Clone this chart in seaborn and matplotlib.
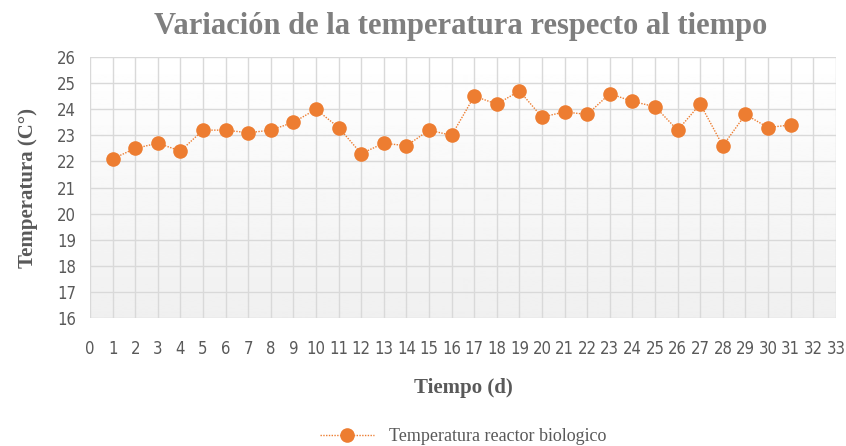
import numpy as np
import pandas as pd
import seaborn as sns
import matplotlib.pyplot as plt
from matplotlib import font_manager

dias = list(range(1, 32))
temperatura = [22.1, 22.5, 22.7, 22.4, 23.2, 23.2, 23.1, 23.2, 23.5, 24.0,
               23.3, 22.3, 22.7, 22.6, 23.2, 23.0, 24.5, 24.2, 24.7, 23.7,
               23.9, 23.8, 24.6, 24.3, 24.1, 23.2, 24.2, 22.6, 23.8, 23.3,
               23.4]
xticks = list(range(0, 34))
yticks = list(range(16, 27))

df = pd.DataFrame({"dia": dias, "temp": temperatura})

sns.set_style("white")
nombres = {f.name for f in font_manager.fontManager.ttflist}
if "Liberation Sans Narrow" in nombres:
    plt.rcParams["font.family"] = ["Liberation Sans Narrow", "DejaVu Sans"]
else:
    plt.rcParams["font.family"] = ["DejaVu Sans"]
    plt.rcParams["font.stretch"] = "condensed"

naranja = "#ED7D31"
gris = "#595959"

fig = plt.figure(figsize=(8.46, 4.46), dpi=100)
ax = fig.add_axes([0.1064, 0.287, 0.8816, 0.585])

# fondo degradado del area de trazado
grad = np.linspace(1.0, 0.94, 256).reshape(-1, 1)
ax.imshow(grad, cmap="gray", vmin=0, vmax=1, aspect="auto",
          extent=[0, 33, 16, 26], zorder=0)

sns.lineplot(data=df, x="dia", y="temp", ax=ax, color=naranja,
             linestyle=(0, (1, 1)), linewidth=1, marker="o", markersize=10.5,
             markeredgewidth=0, label="Temperatura reactor biologico",
             zorder=3)

ax.set_xlim(0, 33)
ax.set_ylim(16, 26)
ax.set_xticks(xticks)
ax.set_yticks(yticks)
ax.grid(True, color="#d9d9d9", linewidth=1, zorder=1)
ax.set_axisbelow(True)
for s in ax.spines.values():
    s.set_visible(False)
ax.tick_params(axis="both", length=0, labelsize=12, colors=gris)
ax.tick_params(axis="x", pad=16)
ax.tick_params(axis="y", pad=10)

ax.set_xlabel("Tiempo (d)", family="Liberation Serif", fontweight="bold",
              fontsize=15, color=gris, labelpad=14)
ax.set_ylabel("Temperatura (C°)", family="Liberation Serif", fontweight="bold",
              fontsize=15, color=gris, labelpad=14)
fig.text(0.545, 0.94, "Variación de la temperatura respecto al tiempo",
         family="Liberation Serif", fontweight="bold", fontsize=22,
         color="#7f7f7f", ha="center", va="center")

ax.legend(loc="center", bbox_to_anchor=(0.5, -0.455), frameon=False,
          prop={"family": "Liberation Serif", "size": 13}, labelcolor=gris,
          handlelength=3, borderpad=0)

fig.savefig("out.png", dpi=100)
